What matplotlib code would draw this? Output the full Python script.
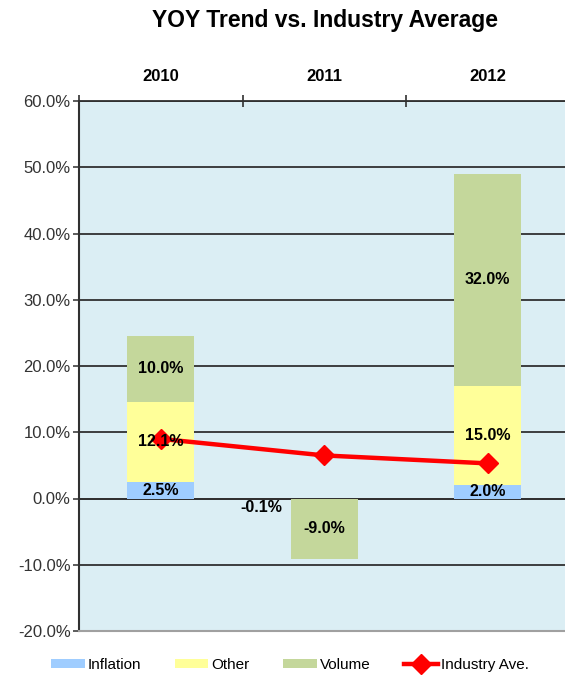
import numpy as np
import matplotlib
matplotlib.use("Agg")
import matplotlib.pyplot as plt
from matplotlib.ticker import FuncFormatter

plt.rcParams['font.family'] = ['Liberation Sans', 'DejaVu Sans']

# data (percent)
years = ['2010', '2011', '2012']
inflation = [2.5, 0.0, 2.0]
other = [12.1, -0.1, 15.0]
volume = [10.0, -9.0, 32.0]
industry_ave = [9.0, 6.5, 5.3]

x = np.arange(len(years))

fig = plt.figure(figsize=(5.65, 6.75), dpi=100)
ax = fig.add_axes([79 / 565, 1 - 631 / 675, 490.5 / 565, 530 / 675])
ax.set_facecolor('#DBEEF4')

# stack positives and negatives separately, like Excel does
pos_base = np.zeros(len(x))
neg_base = np.zeros(len(x))
series = [('Inflation', inflation, '#9FCDFF'),
          ('Other', other, '#FFFF99'),
          ('Volume', volume, '#C4D79B')]
bar_w = 0.41
segments = []
handles = []
for name, vals, col in series:
    vals = np.array(vals, dtype=float)
    bottoms = np.where(vals >= 0, pos_base, neg_base)
    h = ax.bar(x, vals, bar_w, bottom=bottoms, color=col, label=name, zorder=2)
    handles.append(h)
    segments.append((vals, bottoms))
    pos_base = pos_base + np.where(vals >= 0, vals, 0)
    neg_base = neg_base + np.where(vals < 0, vals, 0)

line, = ax.plot(x, industry_ave, color='#FF0000', lw=3.2, marker='D', ms=10,
                label='Industry Ave.', zorder=3)
handles.append(line)

# data labels
for vals, bottoms in segments:
    for i, v in enumerate(vals):
        if v == 0:
            continue
        if abs(v) < 1:
            # tiny segment: label was pushed to the left of the bar
            ax.annotate(f'{v:.1f}%', (x[i], bottoms[i] + v / 2),
                        xytext=(-45, -6), textcoords='offset points',
                        ha='center', va='center', fontsize=11.5,
                        fontweight='bold', zorder=4)
        else:
            ax.text(x[i], bottoms[i] + v / 2, f'{v:.1f}%', ha='center',
                    va='center', fontsize=11.5, fontweight='bold', zorder=4)

ax.set_xlim(-0.5, 2.5)
ax.set_ylim(-20, 60)
ax.set_yticks(np.arange(-20, 61, 10))
ax.yaxis.set_major_formatter(FuncFormatter(lambda v, p: f'{v:.1f}%'))
ax.tick_params(axis='y', labelsize=12, length=4, width=1.2,
               color='#404040', labelcolor='#333333', pad=2)
ax.grid(axis='y', color='#303030', lw=1.3, zorder=1)
ax.axhline(0, color='#303030', lw=1.3, zorder=1)

# categories on top, ticks crossing at boundaries
ax.xaxis.tick_top()
ax.set_xticks([-0.5, 0.5, 1.5])
ax.set_xticklabels([])
ax.set_xticks(x, minor=True)
ax.set_xticklabels(years, minor=True, fontsize=12, fontweight='bold')
ax.tick_params(axis='x', which='major', direction='inout', length=9,
               width=1.2, color='#303030')
ax.tick_params(axis='x', which='minor', length=0, pad=12)

ax.spines['top'].set_color('#303030')
ax.spines['top'].set_linewidth(1.3)
ax.spines['left'].set_color('#303030')
ax.spines['left'].set_linewidth(1.5)
ax.spines['bottom'].set_color('#A0A0A0')
ax.spines['bottom'].set_linewidth(1.5)
ax.spines['right'].set_visible(False)

fig.text(325 / 565, 1 - 20 / 675, 'YOY Trend vs. Industry Average',
         ha='center', va='center', fontsize=16.5, fontweight='bold')

fig.legend(handles=handles, labels=[h.get_label() for h in handles],
           loc='center', bbox_to_anchor=(0.513, 1 - 665 / 675), ncol=4,
           frameon=False, fontsize=11, handlelength=2.2, handleheight=0.6,
           columnspacing=2.2, handletextpad=0.2)

fig.savefig('out.png', dpi=100)
